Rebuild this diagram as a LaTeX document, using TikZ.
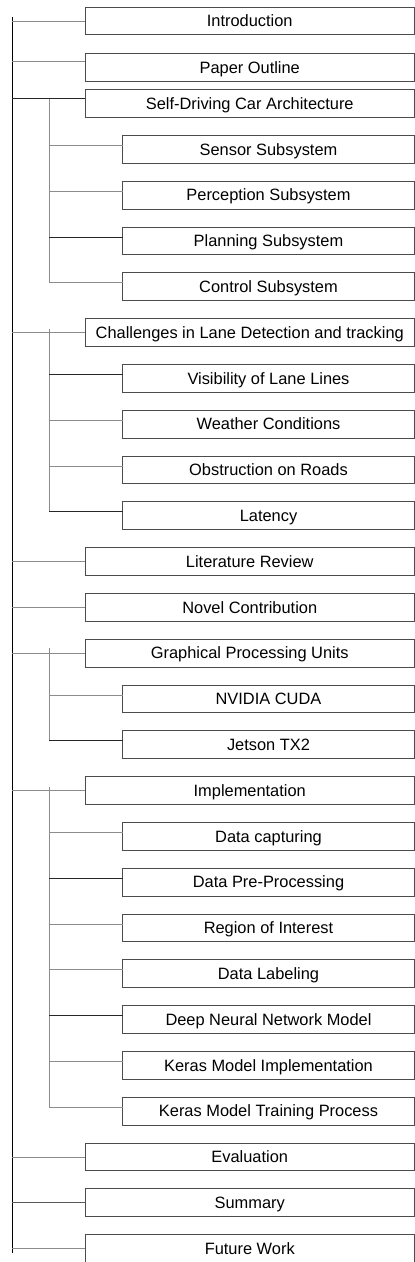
\documentclass[tikz,border=0pt]{standalone}
\usepackage{fontspec}
\setmainfont{Liberation Sans}
\usetikzlibrary{positioning}
\tikzset{x=1pt, y=1pt, node distance=18pt, font=\fontsize{16.4}{16.4}\selectfont}
\tikzstyle{chap} = [draw=black!70, line width=0.8pt, fill=white, rectangle, minimum height=27.8pt, minimum width=329.5pt, text height=11.7pt, text depth=0pt, inner sep=0pt, outer sep=0pt, align=center]
\tikzstyle{sect} = [chap, minimum width=292pt]
\tikzstyle{trunk} = [draw=black, line width=1pt]
\tikzstyle{link} = [draw=black!45, line width=0.8pt]
\tikzstyle{boldlink} = [draw=black!85, line width=0.8pt]

\begin{document}
\begin{tikzpicture}
	\clip (0,0) rectangle (415,-1262);
	\fill [white] (0,0) rectangle (415,-1262);

	\coordinate (rail) at (12,-17);
	\coordinate (railend) at (12,-1253);
	\coordinate (subrail) at (49,0);

	\node [chap, anchor=north east] (intro) at (414.5,-7) {Introduction};
	\node [chap, below=19pt of intro.south east, anchor=north east] (outline) {Paper Outline};
	\node [chap, below=8pt of outline.south east, anchor=north east] (arch) {Self-Driving Car Architecture};
	\node [sect, below=of arch.south east, anchor=north east] (sensor) {Sensor Subsystem};
	\node [sect, below=of sensor.south east, anchor=north east] (percep) {Perception Subsystem};
	\node [sect, below=of percep.south east, anchor=north east] (plan) {Planning Subsystem};
	\node [sect, below=of plan.south east, anchor=north east] (control) {Control Subsystem};
	\node [chap, below=of control.south east, anchor=north east] (chal) {Challenges in Lane Detection and tracking};
	\node [sect, below=of chal.south east, anchor=north east] (vis) {Visibility of Lane Lines};
	\node [sect, below=of vis.south east, anchor=north east] (weather) {Weather Conditions};
	\node [sect, below=of weather.south east, anchor=north east] (obstr) {Obstruction on Roads};
	\node [sect, below=of obstr.south east, anchor=north east] (latency) {Latency};
	\node [chap, below=of latency.south east, anchor=north east] (lit) {Literature Review};
	\node [chap, below=of lit.south east, anchor=north east] (novel) {Novel Contribution};
	\node [chap, below=of novel.south east, anchor=north east] (gpu) {Graphical Processing Units};
	\node [sect, below=of gpu.south east, anchor=north east] (cuda) {NVIDIA CUDA};
	\node [sect, below=of cuda.south east, anchor=north east] (jetson) {Jetson TX2};
	\node [chap, below=of jetson.south east, anchor=north east] (impl) {Implementation};
	\node [sect, below=of impl.south east, anchor=north east] (capture) {Data capturing};
	\node [sect, below=of capture.south east, anchor=north east] (prep) {Data Pre-Processing};
	\node [sect, below=of prep.south east, anchor=north east] (roi) {Region of Interest};
	\node [sect, below=of roi.south east, anchor=north east] (label) {Data Labeling};
	\node [sect, below=of label.south east, anchor=north east] (dnn) {Deep Neural Network Model};
	\node [sect, below=of dnn.south east, anchor=north east] (keras) {Keras Model Implementation};
	\node [sect, below=of keras.south east, anchor=north east] (train) {Keras Model Training Process};
	\node [chap, below=of train.south east, anchor=north east] (eval) {Evaluation};
	\node [chap, below=of eval.south east, anchor=north east] (summary) {Summary};
	\node [chap, below=of summary.south east, anchor=north east] (future) {Future Work};

	% main spine
	\draw [trunk] (rail) -- (railend);
	\draw [link] (intro.west) -- (intro.west -| rail);
	\draw [link] ([yshift=6pt]outline.west) -- ([yshift=6pt]outline.west -| rail);
	\draw [boldlink] ([yshift=5pt]arch.west) -- ([yshift=5pt]arch.west -| rail);
	\draw [link] (chal.west) -- (chal.west -| rail);
	\draw [link] (lit.west) -- (lit.west -| rail);
	\draw [link] (novel.west) -- (novel.west -| rail);
	\draw [link] (gpu.west) -- (gpu.west -| rail);
	\draw [link] (impl.west) -- (impl.west -| rail);
	\draw [link] (eval.west) -- (eval.west -| rail);
	\draw [boldlink, draw=black!65, line width=1pt] (summary.west) -- (summary.west -| rail);
	\draw [link] (future.west) -- (future.west -| rail);

	% architecture
	\draw [link] ([yshift=5pt]arch.west -| subrail) |- ([yshift=4pt]control.west);
	\draw [link] ([yshift=4pt]sensor.west) -- ([yshift=4pt]sensor.west -| subrail);
	\draw [link] ([yshift=4pt]percep.west) -- ([yshift=4pt]percep.west -| subrail);
	\draw [boldlink] ([yshift=4pt]plan.west) -- ([yshift=4pt]plan.west -| subrail);

	% challenges
	\draw [link] ([yshift=4pt]chal.west -| subrail) |- ([yshift=4pt]latency.west);
	\draw [boldlink] ([yshift=4pt]vis.west) -- ([yshift=4pt]vis.west -| subrail);
	\draw [link] ([yshift=4pt]weather.west) -- ([yshift=4pt]weather.west -| subrail);
	\draw [link] ([yshift=4pt]obstr.west) -- ([yshift=4pt]obstr.west -| subrail);
	\draw [boldlink] ([yshift=4pt]latency.west) -- ([yshift=4pt]latency.west -| subrail);

	% gpus
	\draw [link] ([yshift=5pt]gpu.west -| subrail) |- ([yshift=4pt]jetson.west);
	\draw [link] ([yshift=4pt]cuda.west) -- ([yshift=4pt]cuda.west -| subrail);
	\draw [boldlink] ([yshift=4pt]jetson.west) -- ([yshift=4pt]jetson.west -| subrail);

	% implementation
	\draw [link] ([yshift=4pt]impl.west -| subrail) |- ([yshift=4pt]train.west);
	\draw [link] ([yshift=4pt]capture.west) -- ([yshift=4pt]capture.west -| subrail);
	\draw [boldlink] ([yshift=4pt]prep.west) -- ([yshift=4pt]prep.west -| subrail);
	\draw [link] ([yshift=4pt]roi.west) -- ([yshift=4pt]roi.west -| subrail);
	\draw [link] ([yshift=4pt]label.west) -- ([yshift=4pt]label.west -| subrail);
	\draw [boldlink] ([yshift=4pt]dnn.west) -- ([yshift=4pt]dnn.west -| subrail);
	\draw [link] ([yshift=4pt]keras.west) -- ([yshift=4pt]keras.west -| subrail);
\end{tikzpicture}
\end{document}
